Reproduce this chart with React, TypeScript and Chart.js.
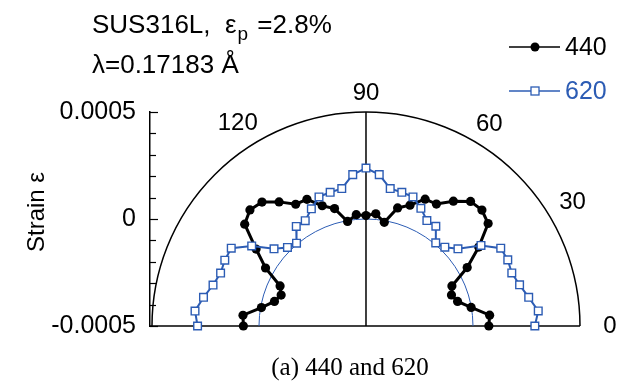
import React, { useEffect, useRef } from 'react';
import { Chart, registerables } from 'chart.js';

Chart.register(...registerables);

// Polar angle of each measurement (degrees)
const angles = [0, 5, 10, 15, 20, 25, 30, 35, 40, 45, 50, 55, 60, 65, 70, 75, 80, 85, 90,
  95, 100, 105, 110, 115, 120, 125, 130, 135, 140, 145, 150, 155, 160, 165, 170, 175, 180];

// Strain values for reflection 440
const strain440 = [0.000074, 0.000080, -0.000001, -0.000057, -0.000075, -0.000057, 0.000046, 0.000143,
  0.000245, 0.000266, 0.000260, 0.000212, 0.000158, 0.000154, 0.000101, 0.000071, -0.000008, 0.000026,
  0.000016, 0.000022, -0.000004, 0.000068, 0.000098, 0.000153, 0.000157, 0.000208, 0.000256, 0.000267,
  0.000240, 0.000127, 0.000042, -0.000057, -0.000078, -0.000057, -0.000004, 0.000077, 0.000073];

// Strain values for reflection 620
const strain620 = [0.000289, 0.000308, 0.000272, 0.000243, 0.000225, 0.000231, 0.000227, 0.000156,
  0.000061, 0.000021, 0.000007, 0.000069, 0.000069, 0.000107, 0.000142, 0.000147, 0.000152, 0.000210,
  0.000238, 0.000210, 0.000152, 0.000147, 0.000142, 0.000104, 0.000068, 0.000068, 0.000005, 0.000019,
  0.000061, 0.000152, 0.000227, 0.000228, 0.000223, 0.000240, 0.000271, 0.000302, 0.000287];

const seriesNames = ['440', '620'];
const yTickValues = [-0.0005, 0, 0.0005];
const yTickLabels = ['-0.0005', '0', '0.0005'];
const angleTickLabels = ['0', '30', '60', '90', '120'];
const angleTickValues = [0, 30, 60, 90, 120];
const titleLine1 = ['SUS316L,  ε', 'p', ' =2.8%'];
const titleLine2 = 'λ=0.17183 Å';
const yAxisTitle = 'Strain ε';
const caption = '(a) 440 and 620';

const R_MIN = -0.0005;
const R_MAX = 0.0005;

const SANS = '"Liberation Sans", Arial, Helvetica, sans-serif';
const SERIF = '"Liberation Serif", "Times New Roman", serif';
const BLUE = '#2c5cb4';

function toPoints(values: number[]) {
  return values.map((s, i) => {
    const t = (angles[i] * Math.PI) / 180;
    const r = s - R_MIN;
    return { x: r * Math.cos(t), y: R_MIN + r * Math.sin(t) };
  });
}

// label placement (angle in deg, pixel distance from centre)
const angleLabelPlacement: Record<string, [number, number]> = {
  '0': [0, 244],
  '30': [31, 241],
  '60': [58.5, 236],
  '90': [90, 233],
  '120': [122.3, 240],
};

const polarPlugin = {
  id: 'polarDecor',
  beforeDatasetsDraw(chart: any) {
    const { ctx, scales } = chart;
    const xs = scales.x;
    const ys = scales.y;
    const cx = xs.getPixelForValue(0);
    const cy = ys.getPixelForValue(R_MIN);
    const R = cy - ys.getPixelForValue(R_MAX);
    const r0 = xs.getPixelForValue(0 - R_MIN) - cx;
    ctx.save();
    ctx.strokeStyle = '#000';
    ctx.lineWidth = 1.5;
    ctx.beginPath();
    ctx.arc(cx, cy, R, Math.PI, 0, false);
    ctx.stroke();
    ctx.beginPath();
    ctx.moveTo(chart.chartArea.left, cy);
    ctx.lineTo(cx + R, cy);
    ctx.stroke();
    ctx.beginPath();
    ctx.moveTo(cx, cy);
    ctx.lineTo(cx, cy - R);
    ctx.stroke();
    ctx.strokeStyle = BLUE;
    ctx.lineWidth = 1;
    ctx.beginPath();
    ctx.arc(cx, cy, r0, Math.PI, 0, false);
    ctx.stroke();
    ctx.strokeStyle = '#000';
    ctx.lineWidth = 1.2;
    const left = chart.chartArea.left;
    for (let i = 0; i <= 10; i++) {
      const v = R_MIN + i * 0.0001;
      const py = Math.round(ys.getPixelForValue(v)) + 0.5;
      const major = i % 5 === 0;
      ctx.beginPath();
      ctx.moveTo(left, py);
      ctx.lineTo(left + (major ? 8 : 6), py);
      ctx.stroke();
    }
    ctx.restore();
  },
  afterDraw(chart: any) {
    const { ctx, scales } = chart;
    const xs = scales.x;
    const ys = scales.y;
    const cx = xs.getPixelForValue(0);
    const cy = ys.getPixelForValue(R_MIN);
    ctx.save();
    ctx.fillStyle = '#000';
    ctx.font = `24px ${SANS}`;
    ctx.textAlign = 'center';
    ctx.textBaseline = 'middle';
    angleTickLabels.forEach((lab, i) => {
      const [a, d] = angleLabelPlacement[lab] || [angleTickValues[i], 236];
      const t = (a * Math.PI) / 180;
      ctx.fillText(lab, cx + d * Math.cos(t), cy - d * Math.sin(t));
    });
    // title lines
    ctx.textAlign = 'left';
    ctx.textBaseline = 'alphabetic';
    ctx.font = `26px ${SANS}`;
    let x = 92;
    ctx.fillText(titleLine1[0], x, 33);
    x += ctx.measureText(titleLine1[0]).width;
    ctx.font = `19px ${SANS}`;
    ctx.fillText(titleLine1[1], x + 1, 40);
    x += ctx.measureText(titleLine1[1]).width + 1;
    ctx.font = `26px ${SANS}`;
    ctx.fillText(titleLine1[2], x + 2, 33);
    ctx.fillText(titleLine2, 92, 73);
    // y-axis title
    ctx.save();
    ctx.translate(37, 212);
    ctx.rotate(-Math.PI / 2);
    ctx.textAlign = 'center';
    ctx.textBaseline = 'middle';
    ctx.font = `24px ${SANS}`;
    ctx.fillText(yAxisTitle, 0, 0);
    ctx.restore();
    // legend
    const ds = chart.data.datasets;
    const legendY = [47, 91];
    [0, 1].forEach((k) => {
      const d = ds.find((q: any) => q.label === seriesNames[k]);
      const y = legendY[k];
      ctx.strokeStyle = d.borderColor;
      ctx.lineWidth = 1.5;
      ctx.beginPath();
      ctx.moveTo(509, y);
      ctx.lineTo(560, y);
      ctx.stroke();
      if (k === 0) {
        ctx.fillStyle = '#000';
        ctx.beginPath();
        ctx.arc(535, y, 4.5, 0, Math.PI * 2);
        ctx.fill();
      } else {
        ctx.fillStyle = '#fff';
        ctx.lineWidth = 1.3;
        ctx.fillRect(531, y - 4, 8, 8);
        ctx.strokeRect(531, y - 4, 8, 8);
      }
      ctx.fillStyle = k === 0 ? '#000' : BLUE;
      ctx.font = `25px ${SANS}`;
      ctx.textAlign = 'left';
      ctx.textBaseline = 'middle';
      ctx.fillText(seriesNames[k], 565, y + 1);
    });
    ctx.fillStyle = '#000';
    ctx.font = `25px ${SERIF}`;
    ctx.textAlign = 'center';
    ctx.textBaseline = 'middle';
    ctx.fillText(caption, 350, 368);
    ctx.restore();
  },
};

export default function App() {
  const ref = useRef<HTMLCanvasElement>(null);
  useEffect(() => {
    if (!ref.current) return;
    const chart = new Chart(ref.current, {
      type: 'scatter',
      data: {
        datasets: [
          {
            label: seriesNames[1],
            data: toPoints(strain620),
            showLine: true,
            clip: 12,
            borderColor: BLUE,
            borderWidth: 2,
            pointStyle: 'rect',
            pointRadius: 5.4,
            pointBorderWidth: 1.4,
            pointBackgroundColor: '#fff',
            pointBorderColor: BLUE,
          },
          {
            label: seriesNames[0],
            data: toPoints(strain440),
            showLine: true,
            clip: 12,
            borderColor: '#000',
            borderWidth: 3,
            pointStyle: 'circle',
            pointRadius: 4.6,
            pointBorderWidth: 0,
            pointBackgroundColor: '#000',
            pointBorderColor: '#000',
          },
        ],
      },
      options: {
        responsive: false,
        animation: false,
        devicePixelRatio: 1,
        layout: { padding: { left: 0, top: 112, right: 49, bottom: 65 } },
        plugins: { legend: { display: false }, tooltip: { enabled: false } },
        scales: {
          x: { type: 'linear', display: false, min: -0.0010093, max: 0.001 },
          y: {
            type: 'linear',
            min: R_MIN,
            max: R_MAX,
            afterFit: (scale: any) => {
              scale.width = 150;
            },
            afterBuildTicks: (scale: any) => {
              scale.ticks = yTickValues.map((v) => ({ value: v }));
            },
            ticks: {
              autoSkip: false,
              padding: 14,
              color: '#000',
              font: { family: SANS, size: 25 },
              callback: (v: any) => {
                const idx = yTickValues.findIndex((q) => Math.abs(q - v) < 1e-9);
                return idx >= 0 ? yTickLabels[idx] : '';
              },
            },
            grid: { display: false, drawOnChartArea: false, drawTicks: false },
            border: { display: true, color: '#000', width: 1.5 },
          },
        },
      },
      plugins: [polarPlugin],
    });
    return () => chart.destroy();
  }, []);
  return (
    <div style={{ position: 'fixed', left: 0, top: 0, width: 629, height: 391, background: '#fff' }}>
      <canvas ref={ref} width={629} height={391} />
    </div>
  );
}
